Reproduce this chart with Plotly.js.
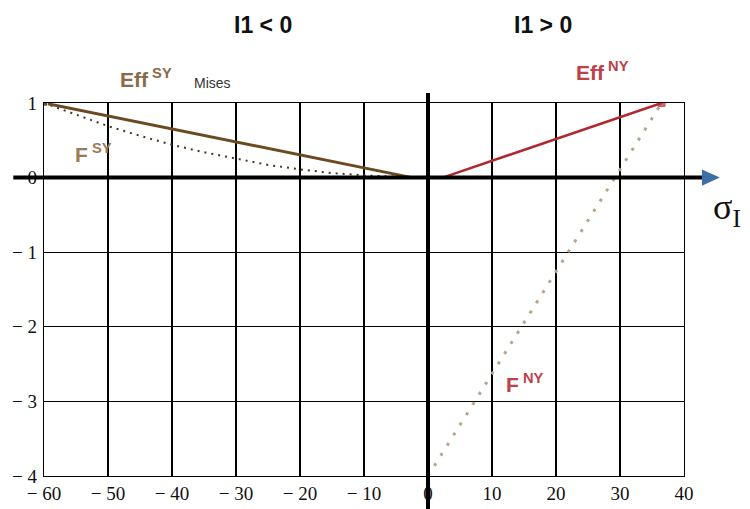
<!DOCTYPE html>
<html><head><meta charset="utf-8">
<script src="https://cdn.plot.ly/plotly-3.0.1.min.js"></script>
<style>body{margin:0;background:#fff}#chart{width:750px;height:509px}</style>
</head><body><div id="chart"></div>
<script>
// tick values and labels
const xTicks = [-60, -50, -40, -30, -20, -10, 0, 10, 20, 30, 40];
const xTickText = ["\u2212 60", "\u2212 50", "\u2212 40", "\u2212 30", "\u2212 20", "\u2212 10", "0", "10", "20", "30", "40"];
const yTicks = [-4, -3, -2, -1, 0, 1];
const yTickText = ["\u2212 4", "\u2212 3", "\u2212 2", "\u2212 1", "0", "1"];

// Eff SY (Mises), solid brown
const effSYx = [-60, -2.5];
const effSYy = [1, 0];
// F SY, dotted brown
const fSYx = [-60, -55, -50, -45, -40, -35, -30, -25, -20, -15, -10, -5, -2];
const fSYy = [1, 0.84, 0.69, 0.56, 0.44, 0.34, 0.25, 0.17, 0.11, 0.06, 0.03, 0.01, 0];
// Eff NY, solid red
const effNYx = [2.3, 36.5];
const effNYy = [0, 1];
// F NY, dotted tan
const fNYx = [0, 36.5];
const fNYy = [-4, 1];

const xr = [-60, 40], yr = [-4, 1];

const traces = [
  {x: fSYx, y: fSYy, mode: 'lines', line: {color: '#4a3520', width: 2, dash: '2px,5px'}, hoverinfo: 'skip'},
  {x: effSYx, y: effSYy, mode: 'lines+markers', line: {color: '#6b4a22', width: 3},
   marker: {size: [7, 0], color: '#6b4a22', symbol: 'square'}, hoverinfo: 'skip'},
  {x: fNYx, y: fNYy, mode: 'lines', line: {color: '#b8a48c', width: 3, dash: '3px,9px'}, hoverinfo: 'skip'},
  {x: effNYx, y: effNYy, mode: 'lines+markers', line: {color: '#b0282f', width: 2.5},
   marker: {size: [0, 7], color: '#c0282f', symbol: 'square'}, hoverinfo: 'skip'}
];

const tickFont = {family: 'Liberation Serif, Times New Roman, serif', size: 19, color: '#111'};
const sans = 'Liberation Sans, Arial, sans-serif';
function ann(x, y, text, font) {
  return {xref: 'paper', yref: 'paper', x: x, y: y, xanchor: 'center', yanchor: 'middle', text: text, showarrow: false, font: font};
}
const layout = {
  width: 750, height: 509,
  margin: {l: 44, r: 66, t: 103, b: 33},
  paper_bgcolor: '#fff', plot_bgcolor: '#fff',
  showlegend: false,
  xaxis: {range: xr, tickvals: xTicks, ticktext: xTickText, showgrid: true, gridcolor: '#000', gridwidth: 1.3,
          zeroline: false, showline: true, linecolor: '#000', linewidth: 1.3, mirror: true, ticks: '',
          tickfont: tickFont, fixedrange: true},
  yaxis: {range: yr, tickvals: yTicks, ticktext: yTickText, showgrid: true, gridcolor: '#000', gridwidth: 1.3,
          zeroline: false, showline: true, linecolor: '#000', linewidth: 1.3, mirror: true, ticks: '',
          tickfont: tickFont, fixedrange: true, ticklabelstandoff: 2},
  shapes: [
    {type: 'line', xref: 'paper', yref: 'y', x0: -0.048, x1: 1.033, y0: 0, y1: 0, line: {color: '#000', width: 4}, layer: 'above'},
    {type: 'path', xref: 'paper', yref: 'y', path: 'M 1.028 0.11 L 1.056 0 L 1.028 -0.11 Z', fillcolor: '#3d6ea8', line: {width: 0}, layer: 'above'},
    {type: 'line', xref: 'x', yref: 'paper', x0: 0, x1: 0, y0: -0.1, y1: 1.027, line: {color: '#000', width: 4}, layer: 'above'}
  ],
  annotations: [
    ann(0.342, 1.209, '<b>I1 &lt; 0</b>', {family: sans, size: 23, color: '#111'}),
    ann(0.780, 1.209, '<b>I1 &gt; 0</b>', {family: sans, size: 23, color: '#111'}),
    ann(0.160, 1.068, '<b>Eff</b><sup><b> SY</b></sup>', {family: sans, size: 21, color: '#8a6a4a'}),
    ann(0.263, 1.054, 'Mises', {family: sans, size: 14, color: '#333'}),
    ann(0.077, 0.865, '<b>F</b><sup><b> SY</b></sup>', {family: sans, size: 21, color: '#9a7a5a'}),
    ann(0.873, 1.085, '<b>Eff</b><sup><b> NY</b></sup>', {family: sans, size: 21, color: '#c0404a'}),
    ann(0.752, 0.25, '<b>F</b><sup><b> NY</b></sup>', {family: sans, size: 21, color: '#c0404a'}),
    {xref: 'paper', yref: 'paper', x: 1.042, y: 0.715, xanchor: 'left', yanchor: 'middle', text: '\u03c3<sub>I</sub>', showarrow: false,
     font: {family: 'Liberation Serif, Times New Roman, serif', size: 36, color: '#111'}}
  ]
};

Plotly.newPlot('chart', traces, layout, {displayModeBar: false, staticPlot: true});
</script>
</body></html>
